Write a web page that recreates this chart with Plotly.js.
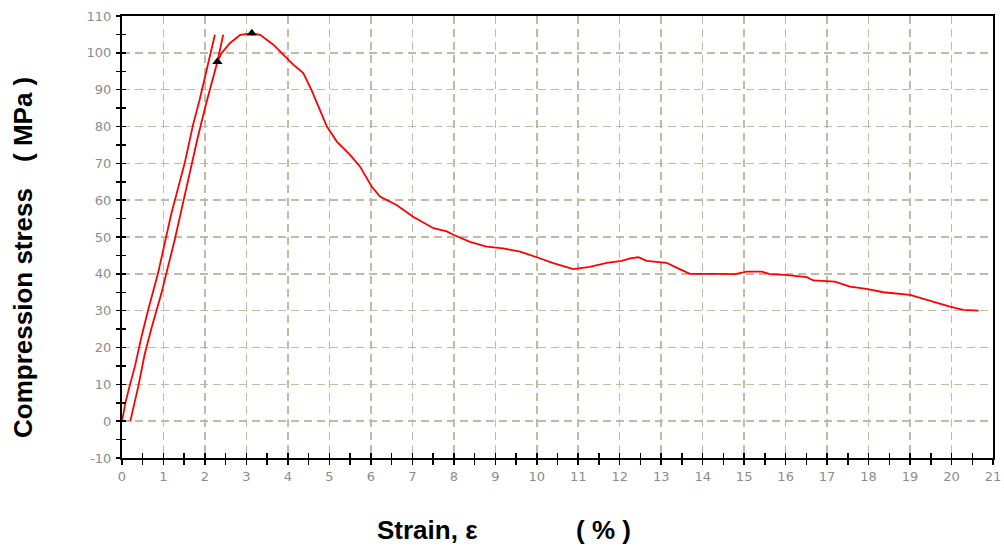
<!DOCTYPE html>
<html>
<head>
<meta charset="utf-8">
<script src="https://cdn.plot.ly/plotly-3.0.1.min.js"></script>
<style>html,body{margin:0;padding:0;background:#fff;}#chart{width:1004px;height:550px;}</style>
</head>
<body>
<div id="chart"></div>
<script>
// Straight loading line (left)
const lineAStrain = [0, 0.024, 0.08, 0.19, 0.31, 0.47, 0.63, 0.87, 1.03, 1.19, 1.35, 1.51, 1.71, 1.87, 2.24];
const lineAStress = [0, 1.7, 4.9, 9.8, 14.8, 22.9, 30.2, 40.2, 48.6, 56.4, 63.2, 70.0, 80.3, 87.2, 104.9];
// Straight loading line (right)
const lineBStrain = [0.2, 0.39, 0.55, 0.71, 0.95, 1.11, 1.27, 1.47, 1.63, 1.83, 2.03, 2.30, 2.44];
const lineBStress = [0, 9.3, 18.3, 25.2, 34.7, 41.9, 49.2, 59.2, 67.3, 77.2, 86.3, 97.6, 104.9];
// Main stress-strain curve after the first marker
const curveStrain = [2.30, 2.40, 2.60, 2.85, 3.13, 3.33, 3.65, 3.89, 4.13, 4.37, 4.57, 4.77, 4.94, 5.18, 5.50, 5.74, 6.02, 6.22, 6.62, 7.02, 7.51, 7.83, 7.99, 8.39, 8.79, 9.19, 9.60, 10.00, 10.40, 10.88, 11.28, 11.69, 12.05, 12.25, 12.45, 12.65, 13.13, 13.37, 13.69, 14.34, 14.78, 15.06, 15.42, 15.62, 15.98, 16.51, 16.67, 17.19, 17.55, 17.95, 18.36, 19.00, 19.40, 19.96, 20.28, 20.65];
const curveStress = [97.6, 99.9, 102.6, 104.9, 105.3, 104.9, 102.2, 99.5, 96.8, 94.5, 89.9, 84.5, 80.0, 75.9, 72.3, 69.1, 63.7, 61.0, 58.7, 55.5, 52.4, 51.5, 50.6, 48.7, 47.4, 46.9, 46.0, 44.5, 42.9, 41.3, 41.9, 43.0, 43.5, 44.2, 44.5, 43.5, 43.0, 41.7, 40.0, 40.0, 39.9, 40.6, 40.6, 39.9, 39.7, 39.1, 38.2, 37.9, 36.5, 35.9, 35.0, 34.3, 32.9, 31.1, 30.2, 30.0];
// Triangle markers
const markerStrain = [2.30, 3.13];
const markerStress = [97.6, 105.3];
// Ticks
const xTickVals = [0,1,2,3,4,5,6,7,8,9,10,11,12,13,14,15,16,17,18,19,20,21];
const yTickVals = [-10,0,10,20,30,40,50,60,70,80,90,100,110];
const yTickText = ["-10","0","10","20","30","40","50","60","70","80","90","100","110"];
const xTitleText = "Strain, ε";
const xUnitText = "( % )";
const yTitleText = "Compression stress";
const yUnitText = "( MPa )";

const red = '#ff0000';
const traces = [
  {x: lineAStrain, y: lineAStress, mode: 'lines', line: {color: red, width: 1.8}, hoverinfo: 'skip'},
  {x: lineBStrain, y: lineBStress, mode: 'lines', line: {color: red, width: 1.8}, hoverinfo: 'skip'},
  {x: curveStrain, y: curveStress, mode: 'lines', line: {color: red, width: 1.8}, hoverinfo: 'skip'},
  {x: markerStrain, y: markerStress, mode: 'markers', marker: {symbol: 'triangle-up', size: 9, color: '#000'}, hoverinfo: 'skip'},
  {x: [null], y: [null], xaxis: 'x2', yaxis: 'y2', mode: 'lines', hoverinfo: 'skip'}
];

const gridColor = '#bfbba7';
const tickFont = {family: 'DejaVu Sans', size: 13, color: '#8c8c8c'};
const titleFont = {family: 'Liberation Sans, Arial', size: 26, color: '#000', weight: 'bold'};

const layout = {
  width: 1004, height: 550,
  margin: {l: 122, r: 11, t: 16, b: 92},
  paper_bgcolor: '#fff', plot_bgcolor: '#fff',
  showlegend: false,
  xaxis: {
    range: [0, 21], tickvals: xTickVals, ticks: 'outside', ticklen: 5, tickwidth: 1.5, tickcolor: '#000',
    showgrid: true, gridcolor: gridColor, gridwidth: 1.5, griddash: '8px,5px',
    zeroline: false, showline: true, linecolor: '#000', linewidth: 2, mirror: true,
    tickfont: tickFont,
    minor: {dtick: 0.5, ticks: 'outside', ticklen: 5, tickwidth: 1.5, tickcolor: '#000', showgrid: false}
  },
  yaxis: {
    range: [-10, 110], tickvals: yTickVals, ticktext: yTickText, ticks: 'outside', ticklen: 4, tickwidth: 1.5, tickcolor: '#000',
    showgrid: true, gridcolor: gridColor, gridwidth: 1.5, griddash: '8px,5px',
    zeroline: false, showline: true, linecolor: '#000', linewidth: 2, mirror: true,
    tickfont: tickFont, ticklabelstandoff: 2,
    minor: {dtick: 5, ticks: 'outside', ticklen: 4, tickwidth: 1.5, tickcolor: '#000', showgrid: false}
  },
  xaxis2: {
    overlaying: 'x', anchor: 'y', range: [0, 21], dtick: 0.5, tick0: 0, ticks: 'inside', ticklen: 5, tickwidth: 1.5, tickcolor: '#000',
    showticklabels: false, showgrid: false, zeroline: false, showline: false
  },
  yaxis2: {
    overlaying: 'y', anchor: 'x', side: 'left', range: [-10, 110], dtick: 5, tick0: 0, ticks: 'inside', ticklen: 4, tickwidth: 1.5, tickcolor: '#000',
    showticklabels: false, showgrid: false, zeroline: false, showline: false
  },
  annotations: [
    {text: xTitleText, xref: 'paper', yref: 'paper', x: 0.3507, y: -0.163, xanchor: 'center', yanchor: 'middle', showarrow: false, font: titleFont},
    {text: xUnitText, xref: 'paper', yref: 'paper', x: 0.5528, y: -0.163, xanchor: 'center', yanchor: 'middle', showarrow: false, font: titleFont},
    {text: yTitleText, xref: 'paper', yref: 'paper', x: -0.1137, y: 0.328, xanchor: 'center', yanchor: 'middle', textangle: -90, showarrow: false, font: titleFont},
    {text: yUnitText, xref: 'paper', yref: 'paper', x: -0.1137, y: 0.767, xanchor: 'center', yanchor: 'middle', textangle: -90, showarrow: false, font: titleFont}
  ]
};

Plotly.newPlot('chart', traces, layout, {staticPlot: true, displayModeBar: false});
</script>
</body>
</html>
